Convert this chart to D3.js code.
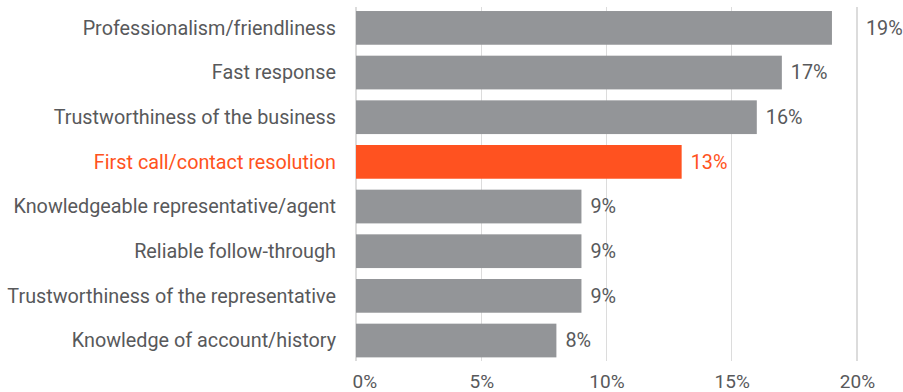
<!DOCTYPE html>
<html>
<head>
<meta charset="utf-8">
<script src="https://cdn.jsdelivr.net/npm/d3@7"></script>
<style>
  html, body { margin: 0; padding: 0; background: #ffffff; }
  svg { display: block; font-family: Roboto, "Noto Sans", sans-serif; }
</style>
</head>
<body>
<svg id="chart" width="903" height="392"></svg>
<script>
// Share of respondents citing each service attribute (%)
const categories = [
  "Professionalism/friendliness",
  "Fast response",
  "Trustworthiness of the business",
  "First call/contact resolution",
  "Knowledgeable representative/agent",
  "Reliable follow-through",
  "Trustworthiness of the representative",
  "Knowledge of account/history"
];
const values = [19, 17, 16, 13, 9, 9, 9, 8];
const highlighted = ["First call/contact resolution"];
const tickValues = [0, 5, 10, 15, 20];
const tickLabels = ["0%", "5%", "10%", "15%", "20%"];

const W = 903, H = 392;
const margin = { top: 7, right: 46, bottom: 31, left: 356 };
const grey = "#939598", accent = "#ff5220", textGrey = "#58595b", gridGrey = "#dcdcdc";
const fontSize = 19.8;
const tickFontSize = 19;

const svg = d3.select("#chart");
const rows = categories.map((c, i) => ({ c, v: values[i], hi: highlighted.includes(c) }));

const x = d3.scaleLinear().domain([0, 20]).range([margin.left, W - margin.right]);
const y = d3.scaleBand().domain(categories)
  .range([margin.top, H - margin.bottom + 0.4])
  .paddingInner(0.245).paddingOuter(0.09);

// vertical gridlines
svg.append("g").selectAll("line").data(tickValues).join("line")
  .attr("x1", d => x(d)).attr("x2", d => x(d))
  .attr("y1", margin.top).attr("y2", H - margin.bottom)
  .attr("stroke", gridGrey).attr("stroke-width", 1.2)
  .attr("shape-rendering", "crispEdges");

// bottom axis labels
const xAxis = d3.axisBottom(x).tickValues(tickValues)
  .tickFormat((d, i) => tickLabels[i]).tickSize(0).tickPadding(0);
const ax = svg.append("g").attr("transform", `translate(0,${H - margin.bottom})`).call(xAxis);
ax.select(".domain").remove();
ax.selectAll("text")
  .attr("fill", textGrey).attr("font-size", tickFontSize)
  .attr("font-family", "Roboto, sans-serif")
  .attr("y", 26.5).attr("dy", 0);
ax.selectAll(".tick").filter(d => d === 0).select("text")
  .attr("text-anchor", "start").attr("dx", -4);

// bars
svg.append("g").selectAll("rect").data(rows).join("rect")
  .attr("x", x(0))
  .attr("y", d => y(d.c))
  .attr("width", d => x(d.v) - x(0))
  .attr("height", y.bandwidth())
  .attr("fill", d => d.hi ? accent : grey);

// category labels
svg.append("g").selectAll("text").data(rows).join("text")
  .attr("x", x(0) - 20)
  .attr("y", d => y(d.c) + y.bandwidth() / 2)
  .attr("dy", "0.35em")
  .attr("text-anchor", "end")
  .attr("font-size", fontSize)
  .attr("fill", d => d.hi ? accent : textGrey)
  .text(d => d.c);

// value labels, nudged past the last gridline when they would sit on it
const xMax = x(20);
svg.append("g").selectAll("text").data(rows).join("text")
  .attr("y", d => y(d.c) + y.bandwidth() / 2)
  .attr("dy", "0.35em")
  .attr("font-size", fontSize)
  .attr("fill", d => d.hi ? accent : textGrey)
  .text(d => d.v + "%")
  .attr("x", function (d) {
    const lx = x(d.v) + 9;
    const w = this.getComputedTextLength();
    return (lx < xMax && lx + w > xMax) ? xMax + 9 : lx;
  });
</script>
</body>
</html>
